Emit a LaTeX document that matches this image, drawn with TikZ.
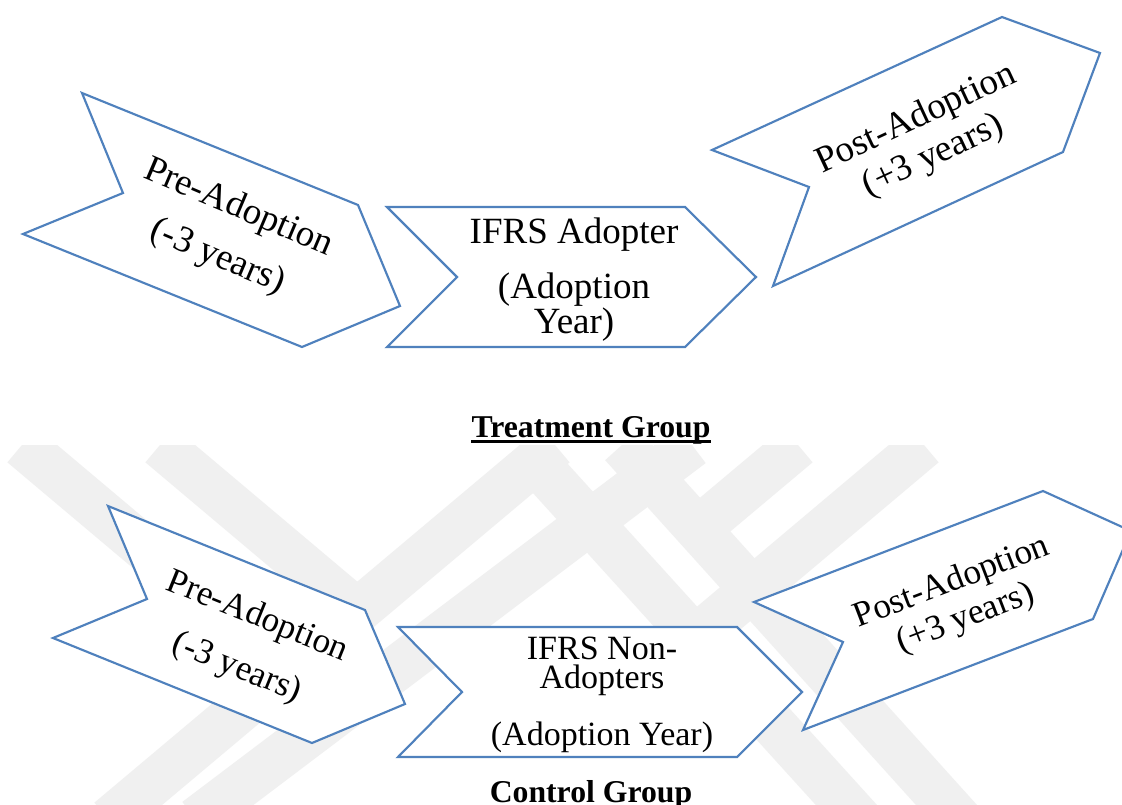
\documentclass[tikz,border=0pt]{standalone}
\usepackage{fontspec}
\setmainfont{Liberation Serif}
\usepackage{tikz}
\definecolor{ShapeBlue}{RGB}{79,129,189}
\definecolor{MarkGray}{RGB}{240,240,240}

\begin{document}
\begin{tikzpicture}[x=0.75pt, y=-0.75pt,
    chev/.style={draw=ShapeBlue, line width=1.6pt, fill=white, line join=miter},
    lbl/.style={align=center, inner sep=0pt},
    grp/.style={anchor=base, inner sep=0pt, font=\bfseries\fontsize{23.8}{28}\selectfont}]
  \clip (0,0) rectangle (1122,804);
  \fill[white] (0,0) rectangle (1122,804);

  % faint bands behind the lower row
  \begin{scope}
    \clip (0,445) rectangle (1122,804);
    \foreach \xa/\ya/\xb/\yb in {22/445/339/712, 160/445/357/611,
        109/820/555/445, 196/820/692/445,
        520/445/860/820, 622/445/960/820,
        924/445/695/638, 798/445/698/529} {
      \draw[MarkGray, line width=34pt] (\xa,\ya) -- (\xb,\yb);
    }
  \end{scope}

  % Treatment group
  \draw[chev] (82,93) -- (358,205) -- (400,306) -- (302,347) -- (23,234) -- (123,193) -- cycle;
  \draw[chev] (387,207) -- (685,207) -- (756,277) -- (685,347) -- (387,347) -- (457,277) -- cycle;
  \draw[chev] (712,150) -- (1002,17) -- (1100,53) -- (1063,152) -- (773,286) -- (809,187) -- cycle;

  \node[lbl, rotate=-23, font=\fontsize{27.75}{39.75}\selectfont] (preT) at (228,233) {Pre-Adoption\\(-3 years)};
  \node[lbl, font=\fontsize{27.75}{26.25}\selectfont] (adoptT) at (574,280) {IFRS Adopter\\[15pt](Adoption\\Year)};
  \node[lbl, rotate=25, font=\fontsize{27.75}{30.75}\selectfont] (postT) at (925,138) {Post-Adoption\\(+3 years)};

  \node[grp] (treat) at (591,437) {Treatment Group};
  \draw[line width=1.6pt] ([yshift=-3.4pt]treat.base west) -- ([yshift=-3.4pt]treat.base east);

  % Control group
  \draw[chev] (108,506) -- (365,610) -- (405,704) -- (312,743) -- (53,638) -- (147,599) -- cycle;
  \draw[chev] (398,627) -- (737,627) -- (802,692) -- (737,757) -- (398,757) -- (462,692) -- cycle;
  \draw[chev] (754,602) -- (1043,491) -- (1131,531) -- (1093,619) -- (803,730) -- (843,642) -- cycle;

  \node[lbl, rotate=-22, font=\fontsize{26.5}{41.25}\selectfont] (preC) at (247,643) {Pre-Adoption\\(-3 years)};
  \node[lbl, font=\fontsize{25.5}{21.75}\selectfont] (adoptC) at (602,695) {IFRS Non-\\Adopters\\[18.75pt](Adoption Year)};
  \node[lbl, rotate=21, font=\fontsize{26.5}{29}\selectfont] (postC) at (959,601) {Post-Adoption\\(+3 years)};

  \node[grp] (ctrl) at (591,802) {Control Group};
\end{tikzpicture}
\end{document}
